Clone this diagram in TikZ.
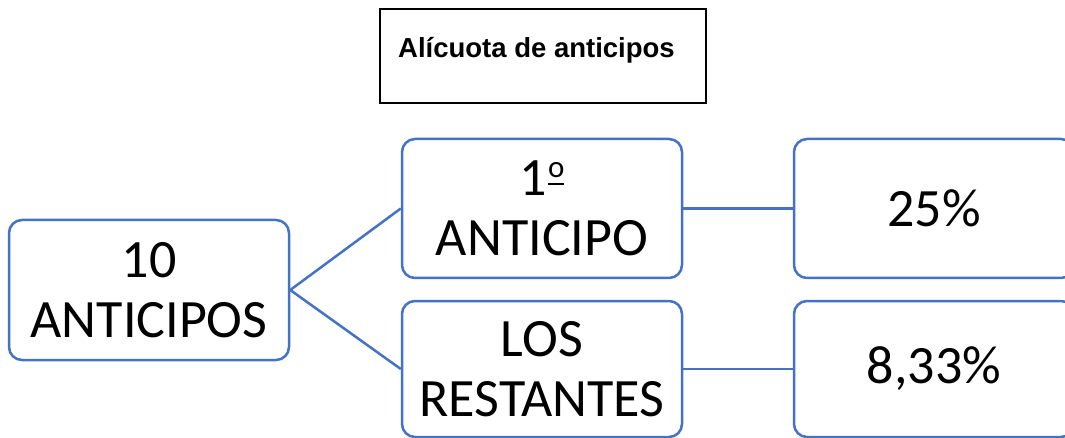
\documentclass[tikz,border=0pt]{standalone}
\usepackage{fontspec}
\newfontfamily\carlito{Carlito}
\newfontfamily\arialf{Liberation Sans}
\definecolor{boxblue}{HTML}{4472C4}
\newcommand\myordinal{\begingroup\setbox0\hbox{\fontsize{31}{31}\selectfont o}\kern1pt\rlap{\raisebox{18pt}{\copy0}}\rule[10.5pt]{\wd0}{2.5pt}\endgroup}
\begin{document}
\begin{tikzpicture}[x=1pt,y=-1pt,
  bluebox/.style={draw=boxblue, line width=2.5pt, rounded corners=13pt, fill=white,
    minimum width=280pt, inner sep=0pt, align=center,
    font=\carlito\fontsize{54}{60}\selectfont},
  conn/.style={draw=boxblue, line width=2.5pt}]
\useasboundingbox (0,0) rectangle (1065,438);
\fill[white] (0,0) rectangle (1065,438);
% title
\node[draw=black, line width=2pt, minimum width=326pt, minimum height=94pt, inner sep=0pt] (title) at (543,56) {};
\node[anchor=base west, inner sep=0pt, font=\arialf\bfseries\fontsize{27.5}{30}\selectfont] (titletext) at (398,58) {Alícuota de anticipos};
% boxes
\node[bluebox, minimum height=140pt] (left) at (149,290) {10\\ANTICIPOS};
\node[bluebox, minimum height=139pt] (mt) at (542,208.5) {1\myordinal\\ANTICIPO};
\node[bluebox, minimum height=136pt] (mb) at (542,369) {LOS\\RESTANTES};
\node[bluebox, minimum height=139pt] (rt) at (934,208.5) {25\%};
\node[bluebox, minimum height=136pt] (rb) at (934,369) {8,33\%};
% connectors
\draw[conn] (left.east) -- (mt.west);
\draw[conn] (left.east) -- (mb.west);
\draw[conn] (mt.east) -- (rt.west);
\draw[conn] (mb.east) -- (rb.west);
\end{tikzpicture}
\end{document}
